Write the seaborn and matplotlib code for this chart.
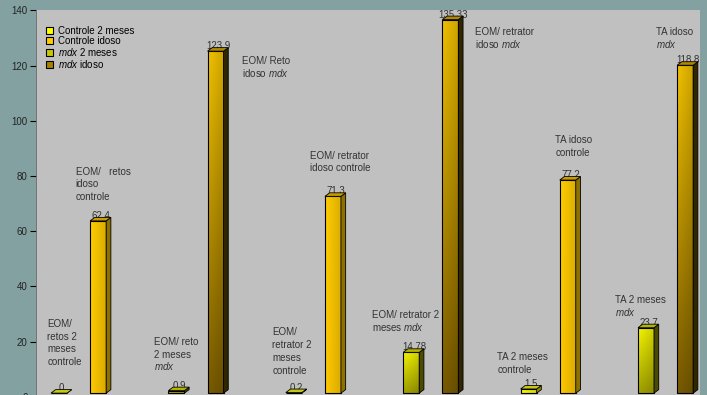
import numpy as np
import pandas as pd
import matplotlib
matplotlib.use("Agg")
import matplotlib.pyplot as plt
from matplotlib.patches import Polygon, Patch
from matplotlib.colors import to_rgb
import seaborn as sns

# dados
musculos = ["EOM/retos", "EOM/retrator", "TA"]
series = ["Controle 2 meses", "Controle idoso", "mdx 2 meses", "mdx idoso"]
controle_2m = [0, 0.2, 1.5]
controle_idoso = [62.4, 71.3, 77.2]
mdx_2m = [0.9, 14.78, 23.7]
mdx_idoso = [123.9, 135.33, 118.8]
rotulos_valor = [["0", "62,4", "0,9", "123,9"],
                 ["0,2", "71,3", "14,78", "135,33"],
                 ["1,5", "77,2", "23,7", "118,8"]]
legenda = ["Controle 2 meses", "Controle idoso", "$\\it{mdx}$ 2 meses", "$\\it{mdx}$ idoso"]

anotacoes = [
    "EOM/\nretos 2\nmeses\ncontrole",
    "EOM/   retos\nidoso\ncontrole",
    "EOM/ reto\n2 meses\n$\\it{mdx}$",
    "EOM/ Reto\nidoso $\\it{mdx}$",
    "EOM/\nretrator 2\nmeses\ncontrole",
    "EOM/ retrator\nidoso controle",
    "EOM/ retrator 2\nmeses $\\it{mdx}$",
    "EOM/ retrator\nidoso $\\it{mdx}$",
    "TA idoso\ncontrole",
    "TA idoso\n$\\it{mdx}$",
    "TA 2 meses\ncontrole",
    "TA 2 meses\n$\\it{mdx}$",
]
# posicoes (x em slots, y = linha de base da primeira linha) dos textos
pos_anot = [(-0.30, 25.3), (0.43, 80.4), (2.42, 18.8), (4.67, 120.4),
            (5.45, 22.2), (6.42, 86.2), (7.99, 28.4), (10.64, 130.9),
            (12.68, 91.8), (15.26, 130.9), (11.20, 13.3), (14.20, 33.8)]

plt.rcParams["font.family"] = ["Liberation Sans", "DejaVu Sans"]
plt.rcParams["mathtext.fontset"] = "custom"
plt.rcParams["mathtext.it"] = "Liberation Sans:italic"
plt.rcParams["mathtext.rm"] = "Liberation Sans"

cores = {"Controle 2 meses": "#ffff00", "Controle idoso": "#ffcc00",
         "mdx 2 meses": "#c8c800", "mdx idoso": "#a88000"}
grad = {"Controle 2 meses": ("#ffff10", "#f4f400", "#8c8c00", "#c8c810"),
        "Controle idoso": ("#ffcc00", "#ffc800", "#8c7000", "#c89c00"),
        "mdx 2 meses": ("#f4f400", "#a0a000", "#4a4a00", "#b4b400"),
        "mdx idoso": ("#f0c000", "#785a00", "#302600", "#b08800")}

offs = [0, 1, 3, 4]
valores = [controle_2m, controle_idoso, mdx_2m, mdx_idoso]
linhas = []
for i, m in enumerate(musculos):
    for j, s in enumerate(series):
        linhas.append({"musculo": m, "serie": s, "valor": valores[j][i],
                       "pos": i * 6 + offs[j], "rotulo": rotulos_valor[i][j]})
df = pd.DataFrame(linhas)

fig = plt.figure(figsize=(7.07, 3.95), dpi=100, facecolor="#84a1a2")
ax = fig.add_axes([36 / 707, (395 - 396.7) / 395, (700 - 36) / 707, (396.7 - 10.3) / 395])
ax.set_facecolor("#c0c0c0")

base = 1.3
sns.barplot(data=df, x="pos", y="valor", hue="serie", hue_order=series, palette=cores,
            native_scale=True, dodge=False, width=0.41, errorbar=None, legend=False,
            edgecolor="black", linewidth=0.8, bottom=base, ax=ax)

dx, dy = 0.12, 1.27
for p in list(ax.patches):
    x0, y0, w, h = p.get_x(), p.get_y(), p.get_width(), p.get_height()
    pos = int(round(x0 + w / 2))
    s = series[offs.index(pos % 6)]
    topo, baixo, lado, cima = grad[s]
    if h > 0:
        t = np.linspace(0, 1, 64)[:, None, None]
        u = np.linspace(0, 1, 16)[None, :, None]
        img = (1 - t) * np.array(to_rgb(topo)) + t * np.array(to_rgb(baixo))
        img = np.clip(img * (1 - 0.15 * u), 0, 1)
        im = ax.imshow(img, extent=[x0, x0 + w, y0, y0 + h], origin="upper",
                       aspect="auto", interpolation="bilinear", zorder=0.9)
        im.set_clip_path(p)
        p.set_facecolor("none")
    x1 = x0 + w
    ax.add_patch(Polygon([(x1, y0), (x1 + dx, y0 + dy), (x1 + dx, y0 + h + dy), (x1, y0 + h)],
                         closed=True, facecolor=lado, edgecolor="black", lw=0.6, zorder=2))
    ax.add_patch(Polygon([(x0, y0 + h), (x0 + dx, y0 + h + dy), (x1 + dx, y0 + h + dy), (x1, y0 + h)],
                         closed=True, facecolor=cima, edgecolor="black", lw=0.6, zorder=2))

for _, r in df.iterrows():
    ax.text(r["pos"] + 0.07, r["valor"] + base + 0.9, r["rotulo"], ha="center",
            va="baseline", fontsize=7, color="#333333", zorder=1.5)

# uma linha de cada vez, com passo fixo (12.7 px)
for txt, (x, y) in zip(anotacoes, pos_anot):
    for k, linha in enumerate(txt.split("\n")):
        ax.annotate(linha, (x, y), xytext=(0, -k * 9.14), textcoords="offset points",
                    ha="left", va="baseline", fontsize=7, color="#333333", zorder=3)

ax.set_xlim(-0.588, 16.38)
ax.set_ylim(0, 140)
ax.set_yticks(range(0, 141, 20))
ax.set_xticks([])
ax.set_xlabel("")
ax.set_ylabel("")
ax.tick_params(axis="y", direction="out", length=4.5, width=0.8, color="black",
               labelsize=7, labelcolor="#222222", pad=1.5)
for k in ["top", "right", "bottom"]:
    ax.spines[k].set_visible(False)
ax.spines["left"].set_color("#666666")
ax.spines["left"].set_linewidth(0.6)

handles = [Patch(facecolor=cores[s], edgecolor="black", linewidth=0.8, label=l)
           for s, l in zip(series, legenda)]
fig.legend(handles=handles, loc="upper left", bbox_to_anchor=(46 / 707, 1 - 25.5 / 395),
           frameon=False, fontsize=7, handlelength=0.75, handleheight=0.75,
           handletextpad=0.5, labelspacing=0.02, borderpad=0, borderaxespad=0)

fig.savefig("out.png", dpi=100, facecolor=fig.get_facecolor())
